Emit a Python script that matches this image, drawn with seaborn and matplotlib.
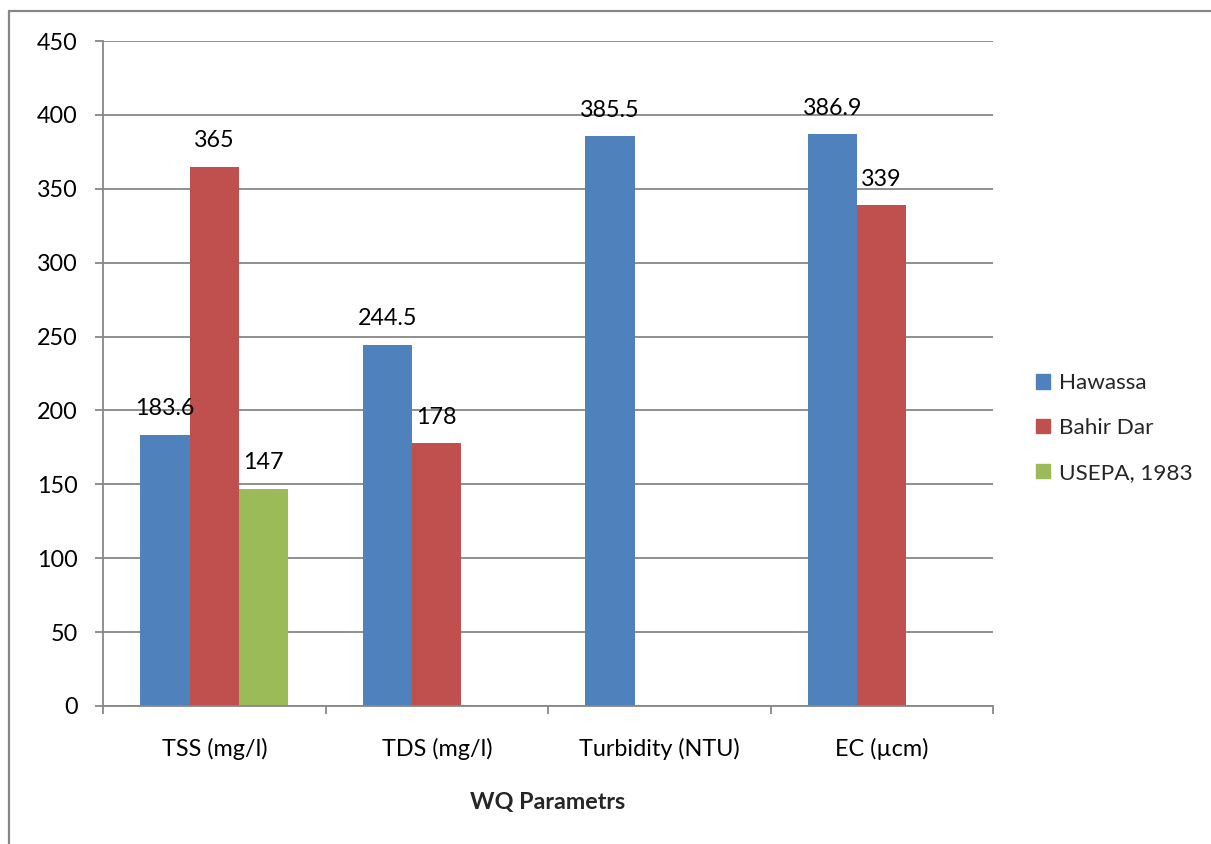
import matplotlib
matplotlib.use("Agg")
import matplotlib.pyplot as plt
from matplotlib.lines import Line2D
import numpy as np
import pandas as pd
import seaborn as sns

# Water-quality parameters compared across sites and the USEPA reference
parameters = ["TSS (mg/l)", "TDS (mg/l)", "Turbidity (NTU)", "EC (µcm)"]
series = ["Hawassa", "Bahir Dar", "USEPA, 1983"]
hawassa = [183.6, 244.5, 385.5, 386.9]
bahir_dar = [365, 178, np.nan, 339]
usepa_1983 = [147, np.nan, np.nan, np.nan]
y_ticks = [0, 50, 100, 150, 200, 250, 300, 350, 400, 450]

colors = ["#4F81BD", "#C0504D", "#9BBB59"]
grid_gray = "#878787"

df = pd.DataFrame({
    "Parameter": parameters * 3,
    "Site": [s for s in series for _ in parameters],
    "Value": hawassa + bahir_dar + usepa_1983,
})

sns.set_theme(style="white")
plt.rcParams["font.family"] = ["Lato", "DejaVu Sans"]

fig = plt.figure(figsize=(12.11, 8.44), dpi=100)
ax = fig.add_axes([103 / 1211, 1 - 706 / 844, 890 / 1211, 665 / 844])

sns.barplot(data=df.dropna(), x="Parameter", y="Value", hue="Site",
            order=parameters, hue_order=series, palette=colors,
            width=0.667, gap=0, saturation=1, dodge=True, ax=ax,
            linewidth=0, edgecolor="none", errorbar=None)

fs = 16.8
for cont in ax.containers:
    ax.bar_label(cont, fmt="{:g}", padding=11, fontsize=fs, color="black")

ax.set_ylim(0, 450)
ax.set_xlim(-0.5, len(parameters) - 0.5)
ax.set_yticks(y_ticks)
ax.yaxis.grid(True, color=grid_gray, linewidth=1.3)
ax.set_axisbelow(True)

for side in ["top", "right"]:
    ax.spines[side].set_visible(False)
for side in ["left", "bottom"]:
    ax.spines[side].set_color(grid_gray)
    ax.spines[side].set_linewidth(1.3)

ax.tick_params(axis="y", direction="out", length=6, width=1.3, color=grid_gray,
               pad=12, labelsize=fs, labelcolor="black", left=True)
ax.set_xticks(np.arange(len(parameters)))
ax.set_xticklabels(parameters)
ax.tick_params(axis="x", which="major", length=0, pad=23, labelsize=fs,
               labelcolor="black")
ax.set_xticks(np.arange(len(parameters) + 1) - 0.5, minor=True)
ax.tick_params(axis="x", which="minor", direction="out", length=5.5, width=1.3,
               color=grid_gray, bottom=True)

ax.set_ylabel("")
ax.set_xlabel("WQ Parametrs", fontsize=fs, fontweight="bold", labelpad=23)

handles = [plt.Rectangle((0, 0), 1, 1, color=c) for c in colors]
ax.legend(handles, series, loc="center left",
          bbox_to_anchor=(1036 / 1211, 1 - 428 / 844),
          bbox_transform=fig.transFigure, frameon=False, fontsize=16.2,
          borderpad=0, borderaxespad=0,
          handlelength=0.62, handleheight=0.62, handletextpad=0.4,
          labelspacing=1.1)

# Outer chart-area frame (left and top edges)
fig.add_artist(Line2D([8.5 / 1211, 8.5 / 1211], [0, 1 - 10.5 / 844],
                      transform=fig.transFigure, color=grid_gray, linewidth=1.6))
fig.add_artist(Line2D([8.5 / 1211, 1], [1 - 10.5 / 844, 1 - 10.5 / 844],
                      transform=fig.transFigure, color=grid_gray, linewidth=1.6))

fig.savefig("out.png", dpi=100)
